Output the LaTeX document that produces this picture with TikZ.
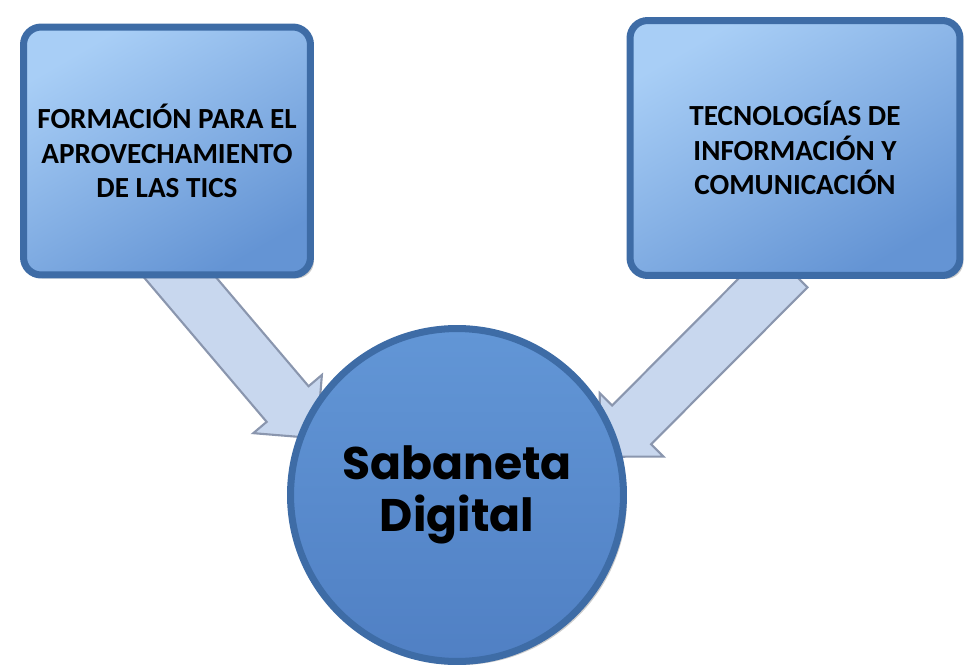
\documentclass[tikz,border=0pt]{standalone}
\usepackage{fontspec}
\setmainfont{Carlito}
\newfontfamily\gothicfont{Poppins}
\usepackage{tikz}
\usetikzlibrary{calc, shadows, backgrounds}
\definecolor{boxtop}{RGB}{168,206,246}
\definecolor{boxbottom}{RGB}{100,148,212}
\definecolor{boxedge}{RGB}{62,108,166}
\definecolor{circtop}{RGB}{98,150,214}
\definecolor{circbottom}{RGB}{80,128,196}
\definecolor{arrowfill}{RGB}{200,215,238}
\definecolor{arrowedge}{RGB}{138,150,174}

% block arrow from #1 to #2
\newcommand{\flecha}[2]{%
  \coordinate (fb) at ($(#2)!0.9cm!(#1)$);
  \filldraw[bloque] ($(#1)!0.55cm!90:(#2)$) -- ($(fb)!0.55cm!-90:(#1)$)
    -- ($(fb)!0.9cm!-90:(#1)$) -- (#2) -- ($(fb)!0.9cm!90:(#1)$)
    -- ($(fb)!0.55cm!90:(#1)$) -- ($(#1)!0.55cm!-90:(#2)$) -- cycle;
}

\begin{document}
\begin{tikzpicture}[x=0.02cm, y=-0.02cm,
    tema/.style={rectangle, rounded corners=10pt, draw=boxedge, line width=4pt,
      top color=boxtop, bottom color=boxbottom, shading angle=30,
      drop shadow={opacity=0.4, shadow xshift=2pt, shadow yshift=-2pt},
      align=center, font=\bfseries\fontsize{16.6}{19.5}\selectfont},
    centro/.style={circle, draw=boxedge, line width=4pt, minimum size=6.66cm,
      top color=circtop, bottom color=circbottom,
      drop shadow={opacity=0.4, shadow xshift=2pt, shadow yshift=-2pt},
      align=center, font=\gothicfont\bfseries\fontsize{26}{30}\selectfont},
    bloque/.style={fill=arrowfill, draw=arrowedge, line width=1.2pt, line join=miter}
]
\useasboundingbox (0,0) rectangle (965,670);

% Boxes
\node[tema, minimum width=5.74cm, minimum height=4.96cm] (formacion) at (167,151)
  {FORMACIÓN PARA EL\\APROVECHAMIENTO\\DE LAS TICS};
\node[tema, minimum width=6.6cm, minimum height=5.1cm] (tecnologias) at (795,148)
  {TECNOLOGÍAS DE\\INFORMACIÓN Y\\COMUNICACIÓN};

% Center
\node[centro] (sabaneta) at (457,495) {Sabaneta\\Digital};

% Arrows
\begin{scope}[on background layer]
\coordinate (inicio1) at ($(formacion.south)+(-3,-20)$);
\coordinate (punta1) at ($(sabaneta.center)!0.89!(sabaneta.158)$);
\coordinate (inicio2) at ($(tecnologias.south)+(-7,-11)$);
\coordinate (punta2) at ($(sabaneta.center)!0.87!(sabaneta.15)$);
\flecha{inicio1}{punta1}
\flecha{inicio2}{punta2}
\end{scope}

\end{tikzpicture}
\end{document}
